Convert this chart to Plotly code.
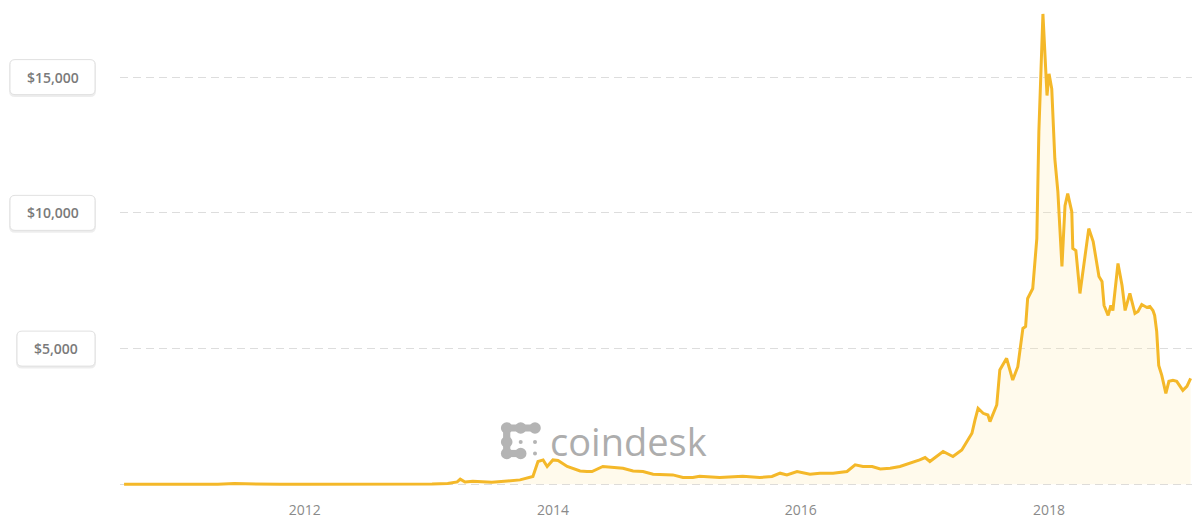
import plotly.graph_objects as go

# ---------------- data ----------------
dates = [
    "2010-07-18", "2010-11-06", "2011-02-10", "2011-04-20", "2011-06-08", "2011-07-20",
    "2011-10-20", "2012-01-15", "2012-05-01", "2012-08-16", "2012-11-01", "2013-01-10",
    "2013-02-25", "2013-03-25", "2013-04-03", "2013-04-17", "2013-05-10", "2013-07-05",
    "2013-08-20", "2013-09-26", "2013-11-03", "2013-11-18", "2013-12-03", "2013-12-15",
    "2014-01-01", "2014-01-16", "2014-02-12", "2014-03-01", "2014-03-22", "2014-04-11",
    "2014-04-26", "2014-05-28", "2014-06-27", "2014-07-26", "2014-08-25", "2014-09-23",
    "2014-10-23", "2014-11-21", "2014-12-20", "2015-01-19", "2015-02-17", "2015-03-09",
    "2015-05-07", "2015-07-14", "2015-09-02", "2015-10-08", "2015-11-01", "2015-11-21",
    "2015-12-21", "2016-01-28", "2016-02-26", "2016-04-05", "2016-05-16", "2016-06-09",
    "2016-07-02", "2016-07-29", "2016-08-22", "2016-09-20", "2016-10-19", "2016-12-16",
    "2017-01-01", "2017-01-15", "2017-02-23", "2017-03-24", "2017-04-19", "2017-04-28",
    "2017-05-19", "2017-05-28", "2017-06-06", "2017-06-21", "2017-07-05", "2017-07-11",
    "2017-07-31", "2017-08-09", "2017-08-29", "2017-09-16", "2017-10-01", "2017-10-16",
    "2017-10-24", "2017-10-30", "2017-11-14", "2017-11-26", "2017-12-02", "2017-12-14",
    "2017-12-26", "2018-01-01", "2018-01-09", "2018-01-18", "2018-01-27", "2018-02-08",
    "2018-02-17", "2018-02-25", "2018-03-09", "2018-03-12", "2018-03-21", "2018-04-02",
    "2018-04-17", "2018-04-28", "2018-05-11", "2018-05-28", "2018-06-06", "2018-06-12",
    "2018-06-24", "2018-07-02", "2018-07-08", "2018-07-23", "2018-08-04", "2018-08-13",
    "2018-08-27", "2018-09-11", "2018-09-20", "2018-10-01", "2018-10-16", "2018-10-25",
    "2018-11-03", "2018-11-08", "2018-11-14", "2018-11-20", "2018-11-29", "2018-12-11",
    "2018-12-20", "2019-01-01", "2019-01-12", "2019-01-30", "2019-02-11", "2019-02-22",
]
prices = [
    0.1, 0.3, 1.0, 1.5, 30, 14,
    2.5, 6, 5, 12, 10.5, 14,
    30, 90, 190, 85, 115, 75,
    120, 165, 290, 842, 901, 658,
    901, 879, 658, 596, 496, 474,
    474, 658, 621, 596, 496, 474,
    375, 375, 349, 254, 254, 300,
    254, 300, 254, 290, 412, 349,
    474, 375, 412, 412, 474, 717,
    658, 658, 570, 596, 658, 901,
    989, 842, 1210, 1026, 1269, 1452,
    1883, 2372, 2802, 2618, 2556, 2313,
    2923, 4210, 4641, 3843, 4335, 5744,
    5817, 6847, 7215, 9053, 12988, 17327,
    14323, 15120, 14569, 11995, 10782, 8024,
    10267, 10709, 10047, 8686, 8612, 7031,
    8318, 9421, 8943, 7656, 7472, 6589,
    6222, 6589, 6405, 8134, 7325, 6405,
    7031, 6295, 6369, 6626, 6516, 6553,
    6405, 6222, 5633, 4383, 4016, 3354,
    3795, 3832, 3795, 3464, 3611, 3905,
]

y_tick_values = [0, 5000, 10000, 15000]
y_box_values = [5000, 10000, 15000]
y_box_labels = ["$5,000", "$10,000", "$15,000"]
x_tick_values = ["2012-01-01", "2014-01-01", "2016-01-01", "2018-01-01"]
x_tick_labels = ["2012", "2014", "2016", "2018"]
brand_text = "coindesk"

# ---------------- layout geometry ----------------
W, H = 1192, 518
L, R, T, B = 120, 0, 0, 32
PW, PH = W - L - R, H - T - B
Y_MIN, Y_MAX = -60, 17840
X_RANGE = ["2010-07-06", "2019-02-26"]

LINE_COLOR = "#f4b829"
FILL_COLOR = "rgba(253,232,170,0.22)"
GRID_COLOR = "#dddddd"
LABEL_COLOR = "#7a7a7a"
FONT = "Open Sans"


def X(px):
    return (px - L) / PW


def Y(py):
    return (T + PH - py) / PH


def val_to_py(v):
    return T + (Y_MAX - v) / (Y_MAX - Y_MIN) * PH


def rrect_path(x0, y0, x1, y1, r):
    return (
        f"M {X(x0 + r)},{Y(y0)} L {X(x1 - r)},{Y(y0)} "
        f"Q {X(x1)},{Y(y0)} {X(x1)},{Y(y0 + r)} L {X(x1)},{Y(y1 - r)} "
        f"Q {X(x1)},{Y(y1)} {X(x1 - r)},{Y(y1)} L {X(x0 + r)},{Y(y1)} "
        f"Q {X(x0)},{Y(y1)} {X(x0)},{Y(y1 - r)} L {X(x0)},{Y(y0 + r)} "
        f"Q {X(x0)},{Y(y0)} {X(x0 + r)},{Y(y0)} Z"
    )


fig = go.Figure()
fig.add_trace(go.Scatter(
    x=dates, y=prices, mode="lines",
    line=dict(color=LINE_COLOR, width=3),
    fill="tozeroy", fillcolor=FILL_COLOR,
    hoverinfo="skip", showlegend=False,
))

shapes = []
annotations = []

# y-axis value boxes
BOX_RIGHT = 95
BOX_H = 35
for v, lab in zip(y_box_values, y_box_labels):
    cy = val_to_py(v)
    w = 7 * len(lab) + 36
    x0, x1 = BOX_RIGHT - w, BOX_RIGHT
    y0, y1 = cy - BOX_H / 2, cy + BOX_H / 2
    # soft shadow
    shapes.append(dict(type="path", xref="paper", yref="paper",
                       path=rrect_path(x0 - 1, y0, x1 + 1, y1 + 2.5, 6),
                       fillcolor="rgba(0,0,0,0.07)", line=dict(width=0), layer="above"))
    shapes.append(dict(type="path", xref="paper", yref="paper",
                       path=rrect_path(x0, y0, x1, y1, 5),
                       fillcolor="white", line=dict(color="#e1e1e1", width=1), layer="above"))
    annotations.append(dict(
        xref="paper", yref="paper", x=X((x0 + x1) / 2), y=Y(cy),
        xanchor="center", yanchor="middle", text=lab, showarrow=False,
        font=dict(family=FONT, size=14, color=LABEL_COLOR, weight=600),
    ))

# coindesk watermark icon (dot grid)
ICON_GRAY = "#b4b4b4"
cols = [506.7, 520.7, 535.0]
rows = [428.0, 442.0, 453.5]
big = [(0, 0), (1, 0), (2, 0), (0, 1), (0, 2), (1, 2)]
small = [(1, 1), (2, 1), (2, 2)]


def circle(cx, cy, r):
    return dict(type="circle", xref="paper", yref="paper",
                xsizemode="pixel", ysizemode="pixel",
                xanchor=X(cx), yanchor=Y(cy), x0=-r, x1=r, y0=-r, y1=r,
                fillcolor=ICON_GRAY, line=dict(width=0), layer="above")


def bar(cx0, cy0, cx1, cy1, half):
    return dict(type="rect", xref="paper", yref="paper",
                x0=X(cx0 - half), x1=X(cx1 + half), y0=Y(cy0 - half), y1=Y(cy1 + half),
                fillcolor=ICON_GRAY, line=dict(width=0), layer="above")


for c, r in big:
    shapes.append(circle(cols[c], rows[r], 5.8))
for c, r in small:
    shapes.append(circle(cols[c], rows[r], 2.0))
shapes.append(bar(cols[0], rows[0], cols[2], rows[0], 3.6))
shapes.append(bar(cols[0], rows[0], cols[0], rows[2], 3.6))
shapes.append(bar(cols[0], rows[2], cols[1], rows[2], 3.6))

annotations.append(dict(
    xref="paper", yref="paper", x=X(548), y=Y(441),
    xanchor="left", yanchor="middle", text=brand_text, showarrow=False,
    font=dict(family=FONT, size=38, color="#adadad"),
))

fig.update_layout(
    width=W, height=H,
    margin=dict(l=L, r=R, t=T, b=B, pad=0, autoexpand=False),
    paper_bgcolor="white", plot_bgcolor="white",
    shapes=shapes, annotations=annotations,
    showlegend=False,
    xaxis=dict(
        type="date", range=X_RANGE, showgrid=False, zeroline=False, showline=False,
        tickvals=x_tick_values, ticktext=x_tick_labels, ticks="",
        tickfont=dict(family=FONT, size=14, color="#8a8a8a"),
        ticklabelstandoff=14, automargin=False, fixedrange=True,
    ),
    yaxis=dict(
        range=[Y_MIN, Y_MAX], tickvals=y_tick_values, showticklabels=False,
        showgrid=True, gridcolor=GRID_COLOR, gridwidth=1, griddash="8px,5px",
        zeroline=False, showline=False, ticks="", automargin=False, fixedrange=True,
    ),
)

fig.write_html("out.html")
